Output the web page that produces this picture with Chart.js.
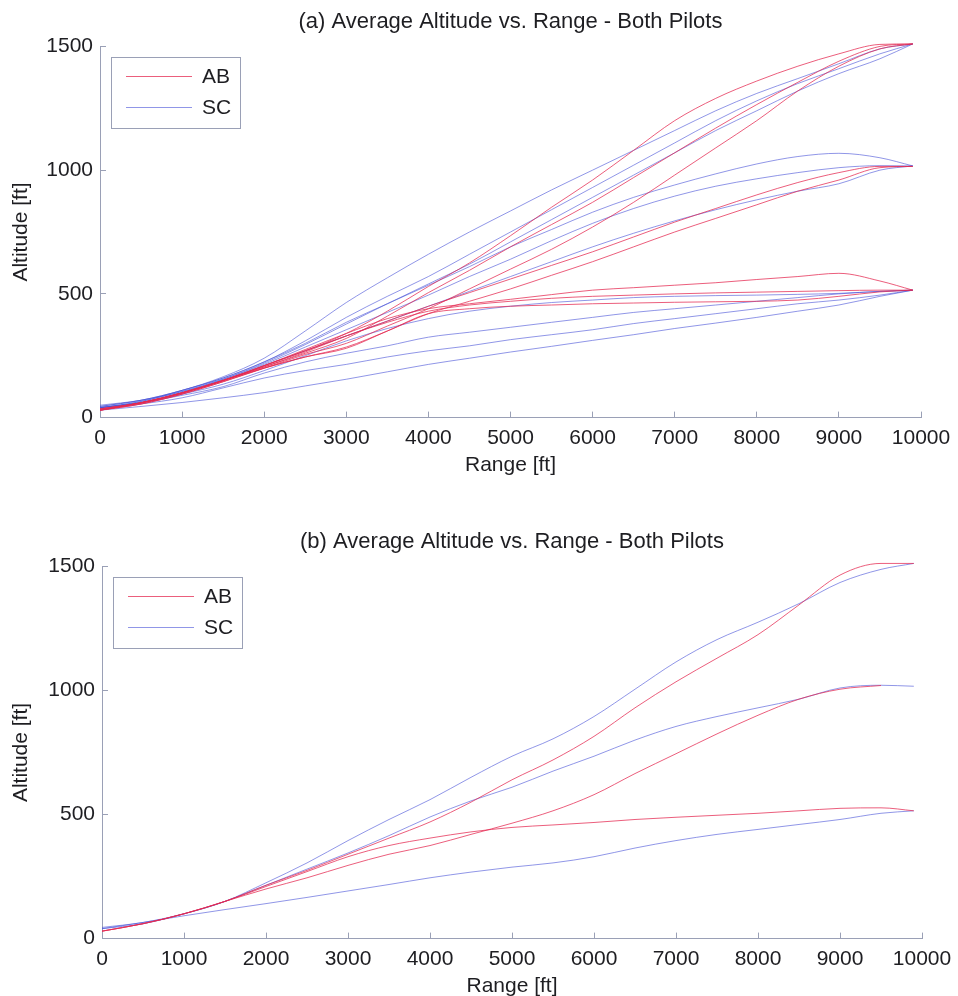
<!DOCTYPE html>
<html>
<head>
<meta charset="utf-8">
<title>Average Altitude vs. Range</title>
<script src="https://cdn.jsdelivr.net/npm/chart.js@4.4.1/dist/chart.umd.min.js"></script>
<style>
  html, body { margin: 0; padding: 0; background: #fff; overflow: hidden; }
  .panel { position: absolute; left: 0; width: 958px; }
  #panelA { top: 0; }
  #panelB { top: 521px; }
</style>
</head>
<body>
<div class="panel" id="panelA"><canvas id="chartA" width="958" height="492"></canvas></div>
<div class="panel" id="panelB"><canvas id="chartB" width="958" height="492"></canvas></div>
<script>
// range samples shared by every run [ft]
const rangeFt = [0, 500, 1000, 1500, 2000, 2500, 3000, 3500, 4000, 4500, 5000,
                 5500, 6000, 6500, 7000, 7500, 8000, 8500, 9000, 9500, 9900];

const xTicks = [0, 1000, 2000, 3000, 4000, 5000, 6000, 7000, 8000, 9000, 10000];
const yTicks = [0, 500, 1000, 1500];

// (a) individual runs, pilot AB
const ab1 = [30, 60, 100, 150, 210, 270, 340, 430, 530, 625, 735, 850, 960, 1080, 1200, 1290, 1360, 1420, 1470, 1508, 1510];
const ab2 = [35, 60, 100, 150, 205, 260, 320, 410, 505, 595, 690, 780, 870, 970, 1070, 1170, 1265, 1355, 1440, 1500, 1510];
const ab3 = [30, 55, 95, 145, 200, 255, 300, 370, 440, 520, 600, 680, 770, 870, 980, 1090, 1200, 1320, 1420, 1490, 1510];
const ab4 = [30, 60, 100, 150, 210, 270, 330, 390, 450, 505, 560, 615, 670, 730, 790, 845, 900, 950, 990, 1015, 1015];
const ab5 = [35, 60, 100, 150, 200, 245, 285, 350, 420, 470, 520, 575, 630, 690, 750, 805, 860, 915, 960, 1010, 1015];
const ab6 = [30, 60, 100, 150, 210, 275, 340, 400, 440, 460, 478, 497, 515, 525, 535, 545, 558, 570, 583, 552, 515];
const ab7 = [35, 60, 100, 150, 205, 265, 330, 385, 430, 455, 470, 482, 490, 495, 500, 504, 507, 510, 513, 515, 515];
const ab8 = [30, 55, 95, 145, 200, 245, 280, 350, 420, 440, 450, 455, 460, 463, 466, 468, 470, 475, 490, 508, 515];

// (a) individual runs, pilot SC
const sc1 = [45, 70, 110, 165, 240, 350, 465, 565, 660, 750, 835, 920, 1000, 1080, 1160, 1240, 1310, 1370, 1430, 1490, 1510];
const sc2 = [40, 65, 110, 160, 225, 310, 405, 490, 570, 660, 750, 840, 930, 1020, 1110, 1200, 1280, 1350, 1410, 1470, 1510];
const sc3 = [50, 70, 105, 155, 220, 295, 378, 460, 540, 620, 710, 800, 890, 980, 1070, 1160, 1240, 1320, 1390, 1450, 1510];
const sc4 = [45, 70, 110, 160, 225, 300, 385, 460, 535, 610, 690, 760, 830, 890, 940, 985, 1025, 1055, 1068, 1050, 1017];
const sc5 = [40, 65, 105, 155, 215, 285, 355, 425, 495, 570, 640, 715, 785, 845, 895, 935, 965, 990, 1010, 1018, 1017];
const sc6 = [40, 60, 100, 150, 210, 270, 330, 390, 450, 510, 570, 630, 690, 745, 795, 840, 880, 915, 945, 1000, 1017];
const sc7 = [40, 60, 95, 135, 190, 250, 310, 360, 400, 430, 450, 465, 475, 485, 490, 493, 495, 498, 502, 510, 515];
const sc8 = [40, 60, 90, 125, 180, 225, 260, 290, 325, 345, 365, 385, 405, 425, 440, 455, 470, 485, 500, 510, 515];
const sc9 = [35, 55, 80, 120, 160, 190, 215, 245, 270, 290, 315, 335, 355, 380, 400, 420, 440, 460, 475, 495, 515];
const sc10 = [30, 45, 61, 80, 101, 128, 155, 185, 215, 240, 265, 288, 312, 335, 360, 382, 405, 430, 455, 490, 515];

// (b) averaged runs, one per target altitude
const abAvg1500 = [30, 60, 100, 150, 215, 275, 340, 405, 470, 550, 640, 720, 815, 930, 1035, 1130, 1225, 1345, 1465, 1512, 1512];
const abAvg1000 = [30, 60, 100, 150, 200, 245, 295, 340, 375, 420, 465, 515, 580, 665, 745, 825, 900, 965, 1005, 1020, null];
const abAvg500 = [30, 60, 100, 150, 210, 270, 330, 375, 405, 430, 448, 458, 468, 480, 489, 497, 505, 515, 525, 527, 515];
const scAvg1500 = [45, 65, 100, 150, 225, 305, 395, 480, 560, 650, 735, 805, 895, 1005, 1115, 1205, 1275, 1350, 1435, 1488, 1512];
const scAvg1000 = [40, 60, 100, 150, 215, 280, 345, 415, 490, 555, 610, 675, 735, 800, 855, 895, 930, 965, 1010, 1021, 1017];
const scAvg500 = [40, 65, 92, 117, 141, 166, 192, 218, 245, 268, 288, 305, 330, 365, 395, 420, 440, 460, 480, 505, 515];

const runsA = { AB: [ab1, ab2, ab3, ab4, ab5, ab6, ab7, ab8], SC: [sc1, sc2, sc3, sc4, sc5, sc6, sc7, sc8, sc9, sc10] };
const runsB = { AB: [abAvg1500, abAvg1000, abAvg500], SC: [scAvg1500, scAvg1000, scAvg500] };

const FONT = '"Liberation Sans", Arial, Helvetica, sans-serif';
const TEXT = '#1e1e22';
const AXIS = '#9aa0b6';
const RED = 'rgba(228, 40, 80, 0.75)';
const BLUE = 'rgba(70, 80, 215, 0.6)';
const pilotColor = { AB: RED, SC: BLUE };

Chart.defaults.font.family = FONT;

// boxed legend in the upper-left corner of the plot
const boxLegend = {
  id: 'boxLegend',
  afterDraw(chart) {
    const { ctx, chartArea } = chart;
    const x = Math.round(chartArea.left) + 11, y = Math.round(chartArea.top) + 11, w = 129, h = 71;
    ctx.save();
    ctx.fillStyle = '#fff';
    ctx.fillRect(x, y, w, h);
    ctx.strokeStyle = AXIS;
    ctx.lineWidth = 1;
    ctx.strokeRect(x + 0.5, y + 0.5, w, h);
    ['AB', 'SC'].forEach((name, i) => {
      const ly = y + 19 + i * 31 + 0.5;
      ctx.strokeStyle = pilotColor[name];
      ctx.beginPath();
      ctx.moveTo(x + 15, ly);
      ctx.lineTo(x + 81, ly);
      ctx.stroke();
      ctx.fillStyle = TEXT;
      ctx.font = '21px ' + FONT;
      ctx.textBaseline = 'middle';
      ctx.fillText(name, x + 91, ly + 1);
    });
    ctx.restore();
  }
};

function toPoints(alts) {
  return rangeFt.map((r, i) => ({ x: r, y: alts[i] }));
}

function buildDatasets(runs) {
  const sets = [];
  Object.keys(runs).forEach(name => {
    runs[name].forEach(alts => {
      sets.push({
        label: name,
        data: toPoints(alts),
        borderColor: pilotColor[name],
        borderWidth: 1,
        pointRadius: 0,
        cubicInterpolationMode: 'monotone',
        clip: 6,
        fill: false
      });
    });
  });
  return sets;
}

function makeChart(id, titleText, runs, leftWidth, rightPad, titleTop) {
  return new Chart(id, {
    type: 'line',
    data: { datasets: buildDatasets(runs) },
    plugins: [boxLegend],
    options: {
      responsive: false,
      animation: false,
      events: [],
      layout: { padding: { left: 0, right: rightPad, top: 0, bottom: 0 } },
      plugins: {
        legend: { display: false },
        tooltip: { enabled: false },
        title: {
          display: true,
          fullSize: false,
          text: titleText,
          color: TEXT,
          font: { size: 22, weight: 'normal', family: FONT },
          padding: { top: titleTop, bottom: 11 }
        }
      },
      scales: {
        x: {
          type: 'linear',
          min: 0,
          max: 10000,
          afterBuildTicks: s => { s.ticks = xTicks.map(v => ({ value: v })); },
          // the last label may hang past the plot edge
          afterFit: s => { s.paddingRight = 0; },
          ticks: { color: TEXT, font: { size: 21 }, padding: 14, maxRotation: 0, autoSkip: false,
                   callback: v => String(v) },
          grid: { drawOnChartArea: false, drawTicks: true, tickLength: -6, color: AXIS },
          border: { color: AXIS, width: 1 },
          title: { display: true, text: 'Range [ft]', color: TEXT, font: { size: 21 }, padding: { top: -12, bottom: 14 } }
        },
        y: {
          min: 0,
          max: 1500,
          afterBuildTicks: s => { s.ticks = yTicks.map(v => ({ value: v })); },
          afterFit: s => { s.width = leftWidth; },
          ticks: { color: TEXT, font: { size: 21 }, padding: 13, callback: v => String(v) },
          grid: { drawOnChartArea: false, drawTicks: true, tickLength: -6, color: AXIS },
          border: { color: AXIS, width: 1 },
          title: { display: true, text: 'Altitude [ft]', color: TEXT, font: { size: 21 }, padding: { top: 9, bottom: 0 } }
        }
      }
    }
  });
}

makeChart('chartA', '(a) Average Altitude vs. Range - Both Pilots', runsA, 100, 37, 9);
makeChart('chartB', '(b) Average Altitude vs. Range - Both Pilots', runsB, 102, 36, 8);
</script>
</body>
</html>
